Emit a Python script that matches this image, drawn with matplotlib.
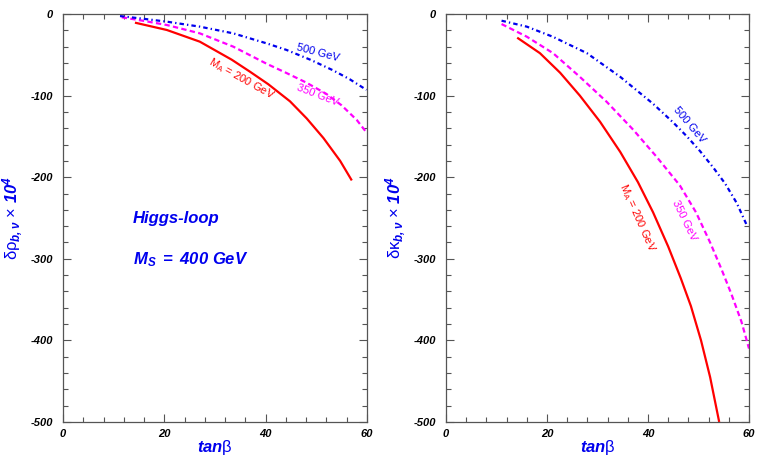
"""Higgs-loop corrections delta rho_b,nu and delta kappa_b,nu vs tan(beta)."""

import matplotlib
matplotlib.use("Agg")
import matplotlib.pyplot as plt
from matplotlib.ticker import MultipleLocator

plt.rcParams["font.family"] = ["Liberation Sans", "DejaVu Sans"]
plt.rcParams["mathtext.fontset"] = "custom"
plt.rcParams["mathtext.rm"] = "Liberation Sans"
plt.rcParams["mathtext.it"] = "Liberation Sans:italic"
plt.rcParams["mathtext.bf"] = "Liberation Sans:bold:italic"
plt.rcParams["axes.unicode_minus"] = False

# --- left panel: delta rho ---
rho_200_x = [14.2, 20.5, 27, 33.3, 36.9, 40.5, 44.8, 48.1, 51.4, 54.7, 57]
rho_200_y = [-10.6, -19.6, -33.9, -56, -70.7, -86, -107, -128, -152, -180, -204]
rho_350_x = [11.6, 16, 20.5, 27, 33.6, 40.2, 44, 48, 52, 55, 58, 60]
rho_350_y = [-4, -8.5, -13.5, -23.7, -40, -61, -72, -84, -98, -112, -130, -146]
rho_500_x = [11.25, 15, 20.5, 27, 33.6, 40.2, 44.1, 48.8, 53.3, 56.6, 59.9]
rho_500_y = [-2.5, -5.2, -9.4, -15.5, -23.7, -36, -44, -56, -69, -80, -93]

# --- right panel: delta kappa ---
kap_200_x = [14.1, 18.6, 22.6, 26.5, 30.5, 34.5, 38, 41, 44, 46.5, 48.5, 50.5, 52.3, 54.1]
kap_200_y = [-29, -48, -72, -100, -132, -169, -206, -243, -285, -324, -358, -400, -445, -500]
kap_350_x = [11, 16, 21.2, 26.5, 31.8, 37.1, 41.7, 46.3, 49.5, 52.3, 54.5, 56.5, 58.5, 60]
kap_350_y = [-12.3, -27.8, -48, -77, -107.5, -142, -175, -210, -243, -280, -312, -343, -377, -410]
kap_500_x = [11, 16, 21.2, 27.9, 34.5, 41, 45, 47.7, 50.3, 52.9, 55.3, 57.6, 59.5]
kap_500_y = [-8.2, -15.5, -28, -48, -77, -110, -133, -150, -168, -188, -208, -232, -258]

BLUE = "#0000ee"
RED = "#ff0000"
MAG = "#ff00ff"


def style_axes(ax, ylabel):
    ax.set_xlim(0, 60)
    ax.set_ylim(-500, 0)
    ax.xaxis.set_major_locator(MultipleLocator(20))
    ax.xaxis.set_minor_locator(MultipleLocator(4))
    ax.yaxis.set_major_locator(MultipleLocator(100))
    ax.yaxis.set_minor_locator(MultipleLocator(20))
    ax.tick_params(which="both", direction="in", top=True, right=True,
                   color="#555555", width=0.8)
    ax.tick_params(which="major", length=6)
    ax.tick_params(which="minor", length=3.5)
    ax.tick_params(axis="y", pad=7)
    ax.tick_params(axis="x", pad=5)
    for lab in ax.get_xticklabels() + ax.get_yticklabels():
        lab.set_fontsize(8)
        lab.set_fontweight("bold")
        lab.set_fontstyle("italic")
    for sp in ax.spines.values():
        sp.set_color("#555555")
        sp.set_linewidth(0.9)
    ax.set_xlabel(r"$\mathbf{tan}\mathrm{\beta}$", color=BLUE, fontsize=12,
                  labelpad=-1)
    ax.set_ylabel(ylabel, color=BLUE, fontsize=12, labelpad=4)


def curves(ax, c200, c350, c500):
    ax.plot(*c200, color=RED, lw=1.6, solid_capstyle="butt")
    ax.plot(*c350, color=MAG, lw=1.6, dashes=(2.4, 1.5))
    ax.plot(*c500, color=BLUE, lw=1.6, dashes=(2.0, 1.4, 0.6, 1.4))


fig = plt.figure(figsize=(7.63, 4.58), dpi=100)
axL = fig.add_axes([63 / 763, 36 / 458, 304 / 763, 408 / 458])
axR = fig.add_axes([446 / 763, 36 / 458, 303 / 763, 408 / 458])

curves(axL, (rho_200_x, rho_200_y), (rho_350_x, rho_350_y), (rho_500_x, rho_500_y))
curves(axR, (kap_200_x, kap_200_y), (kap_350_x, kap_350_y), (kap_500_x, kap_500_y))

style_axes(axL, r"$\mathrm{\delta\rho}_{\mathbf{b,\nu}}\ \mathrm{\times}\ \mathbf{10^4}$")
style_axes(axR, r"$\mathrm{\delta\kappa}_{\mathbf{b,\nu}}\ \mathrm{\times}\ \mathbf{10^4}$")

# curve labels
axL.text(50.4, -47, "500 GeV", color=BLUE, fontsize=8, rotation=-15,
         ha="center", va="center")
axL.text(50.3, -99, "350 GeV", color=MAG, fontsize=8, rotation=-21,
         ha="center", va="center")
axL.text(35.3, -79, r"M$_\mathrm{A}$ = 200 GeV", color=RED, fontsize=8,
         rotation=-29, ha="center", va="center")

axR.text(48.1, -136, "500 GeV", color=BLUE, fontsize=8, rotation=-50,
         ha="center", va="center")
axR.text(47.1, -253, "350 GeV", color=MAG, fontsize=8, rotation=-64,
         ha="center", va="center")
axR.text(37.8, -250, r"M$_\mathrm{A}$ = 200 GeV", color=RED, fontsize=8,
         rotation=-66, ha="center", va="center")

axL.text(13.8, -250, "Higgs-loop", color=BLUE, fontsize=12, fontweight="bold",
         fontstyle="italic", ha="left", va="center")
axL.text(13.8, -301, r"$\mathbf{M_S\ =\ 400\ GeV}$", color=BLUE, fontsize=12,
         ha="left", va="center")

fig.savefig("out.png", dpi=100)
